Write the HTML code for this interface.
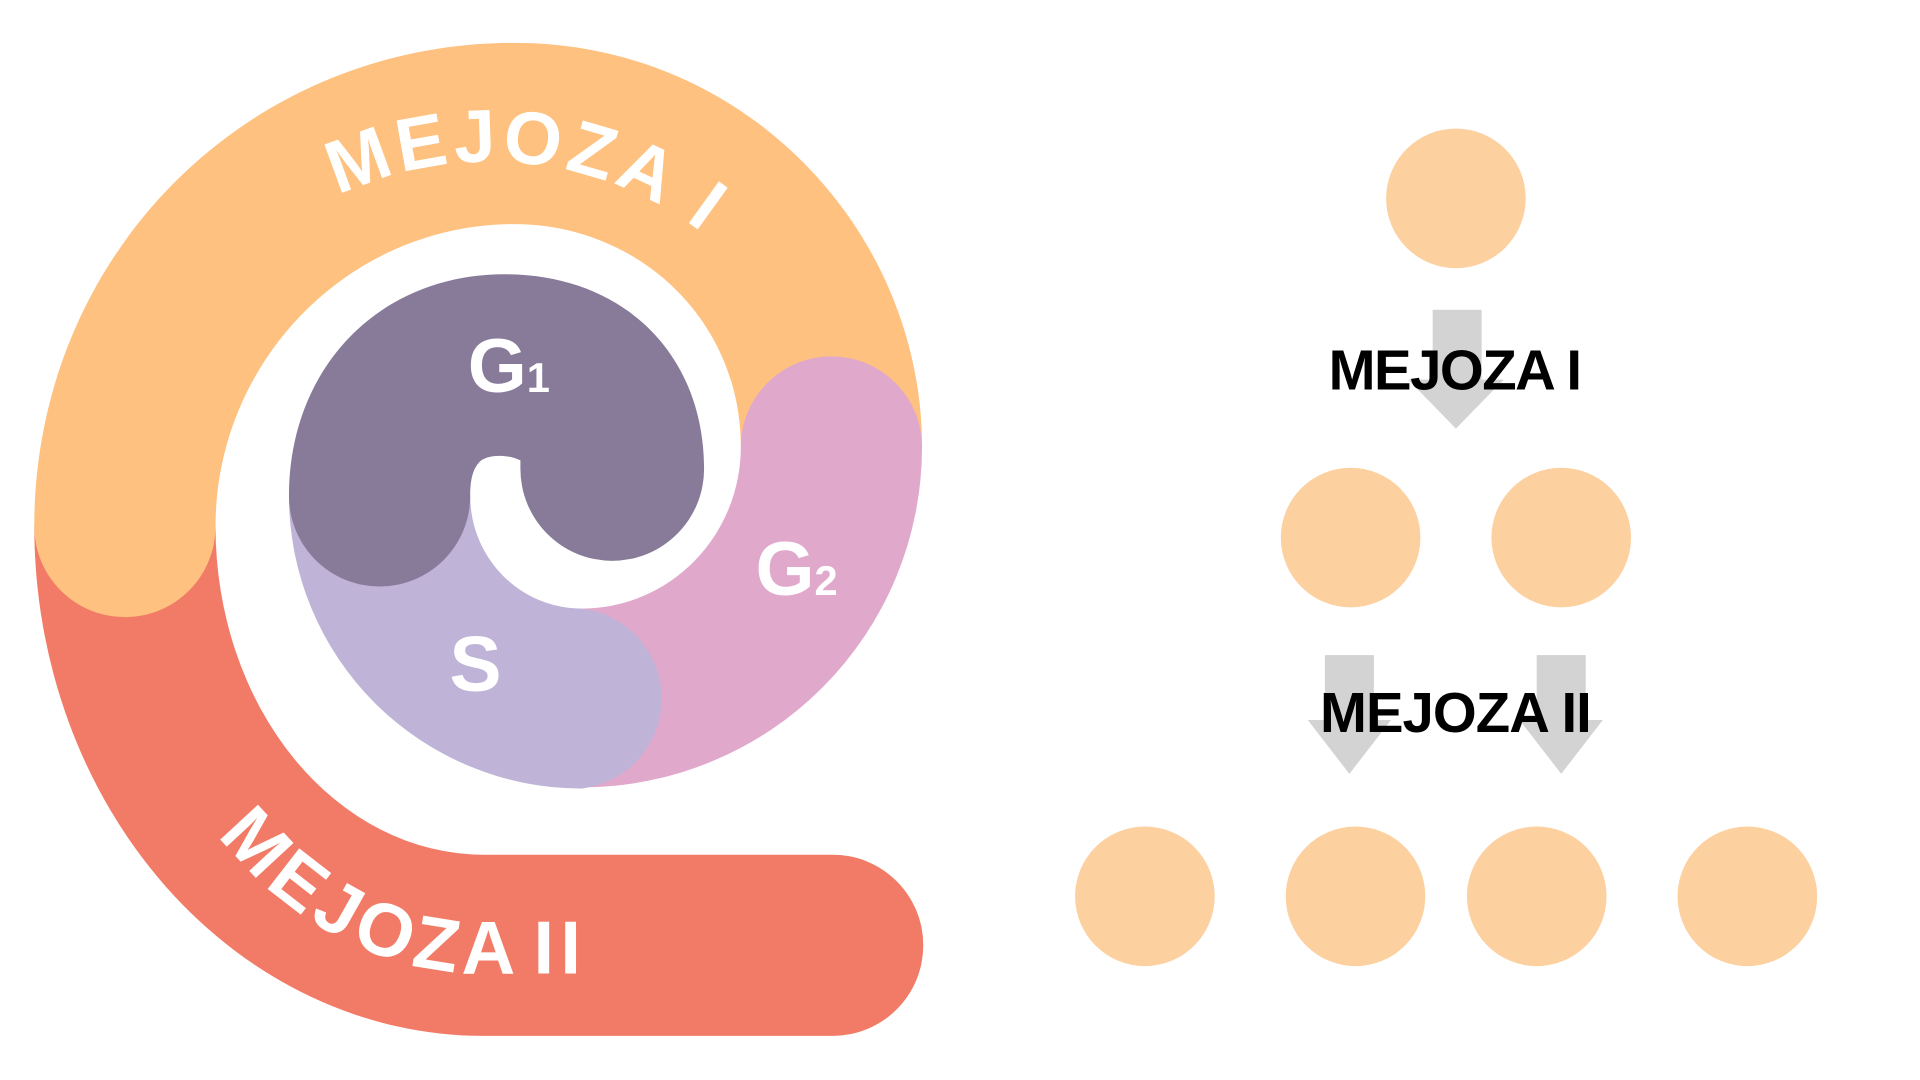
<!DOCTYPE html>
<html><head><meta charset="utf-8"><style>
html,body{margin:0;padding:0;background:#fff;width:1920px;height:1080px;overflow:hidden}
svg{display:block}
text{font-family:"Liberation Sans",Arial,sans-serif;font-weight:bold}
</style></head><body>
<svg width="1920" height="1080" viewBox="0 0 1568 882" xmlns="http://www.w3.org/2000/svg">
<defs>
<path id="arcTop" d="M 112 420 A 288 288 0 0 1 688 420"/>
<path id="arcBot" d="M 95 430 A 300 365 0 0 0 395 795 L 720 795"/>
</defs>
<path fill="#F27B67" d="M 28 430 A 367 416 0 0 0 395 846 L 680 846 A 74 74 0 0 0 680 698 L 395 698 A 219 268 0 0 1 176 430 Z"/>
<path fill="#FEC17F" d="M 28 430 C 28 210 200 35 420 35 C 610 35 753 190 753 365 L 605 365 C 605 260 520 183 420 183 C 285 183 176 295 176 430 A 74 74 0 0 1 28 430 Z"/>
<path fill="#E0A9CC" d="M 605 365 A 74 74 0 0 1 753 365 A 278 278 0 0 1 475 643 L 475 497 A 130 132 0 0 0 605 365 Z"/>
<path fill="#BFB3D7" d="M 236 405 A 239 239 0 0 0 475 644 A 74 74 0 0 0 475 497 A 91 92 0 0 1 384 405 Z"/>
<path fill="#887B9A" d="M 236 405 C 236 300 310 224 412 224 C 510 224 575 290 575 383 A 75 75 0 0 1 425 383 L 425 376 C 415 371 400 371 393 376 C 386 382 384 392 384 405 A 74 74 0 0 1 236 405 Z"/>
<text font-size="61" fill="#fff" letter-spacing="4"><textPath href="#arcTop" startOffset="324">MEJOZA I</textPath></text>
<text font-size="61" fill="#fff" letter-spacing="5" word-spacing="-10"><textPath href="#arcBot" startOffset="270">MEJOZA II</textPath></text>
<text x="382" y="320" font-size="62" fill="#fff">G<tspan font-size="34">1</tspan></text>
<text x="617" y="486" font-size="62" fill="#fff">G<tspan font-size="34">2</tspan></text>
<text x="367" y="564" font-size="64" fill="#fff">S</text>
<g fill="#D3D3D3">
<rect x="1170" y="253" width="40" height="60"/><polygon points="1150,310 1228,310 1189,350"/>
<rect x="1082" y="535" width="40" height="57"/><polygon points="1068,588 1136,588 1102,632"/>
<rect x="1255" y="535" width="40" height="57"/><polygon points="1241,588 1309,588 1275,632"/>
</g>
<g fill="#FCD09F">
<circle cx="1189" cy="162" r="57"/>
<circle cx="1103" cy="439" r="57"/><circle cx="1275" cy="439" r="57"/>
<circle cx="935" cy="732" r="57"/><circle cx="1107" cy="732" r="57"/>
<circle cx="1255" cy="732" r="57"/><circle cx="1427" cy="732" r="57"/>
</g>
<text x="1085" y="318" font-size="46" fill="#000" textLength="207" lengthAdjust="spacing">MEJOZA I</text>
<text x="1078" y="598" font-size="46" fill="#000" textLength="222" lengthAdjust="spacing">MEJOZA II</text>
</svg>
</body></html>
